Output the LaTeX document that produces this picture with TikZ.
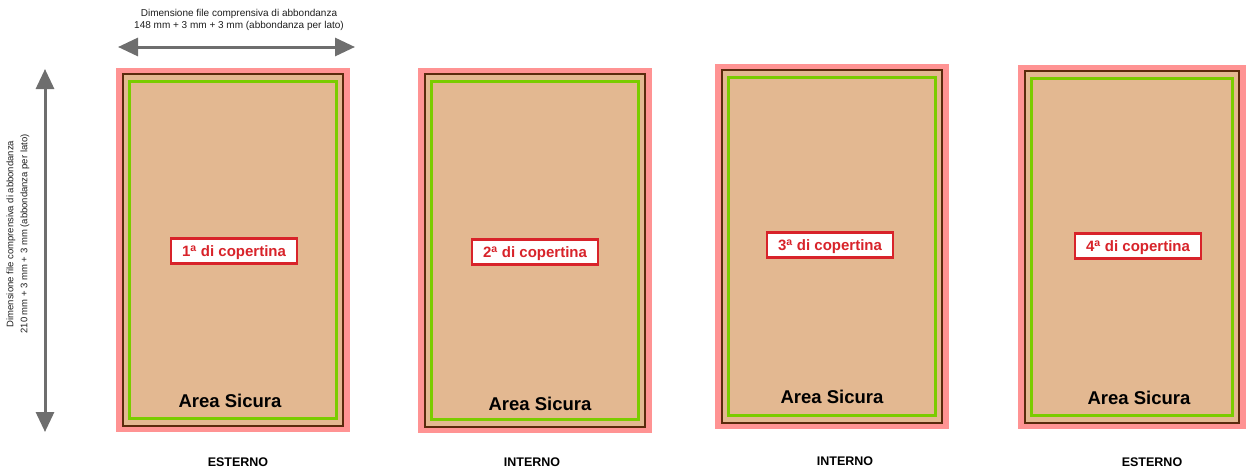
\documentclass[tikz,border=0pt]{standalone}
\usepackage{fontspec}
\setmainfont{Liberation Sans}
\usetikzlibrary{arrows.meta, positioning, calc}
\definecolor{cvBleed}{HTML}{FF9393}
\definecolor{cvPaper}{HTML}{E3B891}
\definecolor{cvTrim}{HTML}{5A2A0C}
\definecolor{cvSafe}{HTML}{7ACC00}
\definecolor{cvRed}{HTML}{D8232A}
\definecolor{cvGrey}{HTML}{6E6E6E}
\definecolor{cvInk}{HTML}{1E1E1E}
\tikzset{
  bleed/.style={
    rectangle, fill=cvBleed, inner sep=0pt, outer sep=0pt
  },
  trimline/.style={
    rectangle, draw=cvTrim, fill=cvPaper, line width=2.2pt,
    inner sep=0pt, outer sep=0pt
  },
  safeline/.style={rectangle, draw=cvSafe, line width=3pt, inner sep=0pt},
  pagetag/.style={
    draw=cvRed, fill=white, line width=2.4pt, text=cvRed,
    font=\fontsize{15}{17}\selectfont\bfseries,
    inner xsep=11pt, inner ysep=0pt, text height=10.5pt, text depth=0pt,
    minimum height=25pt
  },
  safetxt/.style={font=\fontsize{18.5}{20}\selectfont\bfseries, text=black},
  sidetxt/.style={font=\fontsize{12.5}{14}\selectfont\bfseries, text=black},
  dimtxt/.style={font=\fontsize{10}{12}\selectfont, text=cvInk, align=center},
  dimarrow/.style={
    {Triangle[length=20pt,width=18pt]}-{Triangle[length=20pt,width=18pt]},
    line width=3pt, draw=cvGrey
  },
}

\begin{document}
\begin{tikzpicture}[x=1pt, y=-1pt]
  \useasboundingbox (0,0) rectangle (1247,471);

  % dimension arrows
  \coordinate (hL) at (118,47);
  \coordinate (hR) at (355,47);
  \coordinate (vT) at (45,69);
  \coordinate (vB) at (45,432);
  \draw[dimarrow] (hL) -- (hR);
  \draw[dimarrow] (vT) -- (vB);
  \node[dimtxt] (hdim) at (239,20)
    {Dimensione file comprensiva di abbondanza\\148 mm + 3 mm + 3 mm (abbondanza per lato)};
  \node[dimtxt, font=\fontsize{9.5}{14}\selectfont, rotate=90] (vdim) at (18,234)
    {Dimensione file comprensiva di abbondanza\\210 mm + 3 mm + 3 mm (abbondanza per lato)};

  % pages
  \node[bleed, minimum width=234pt, minimum height=364pt] (pg1) at (233,250) {};
  \node[trimline, minimum width=220pt, minimum height=352pt] (tr1) at (pg1) {};
  \node[safeline, minimum width=207pt, minimum height=337pt] (sf1) at (pg1) {};

  \node[bleed, minimum width=234pt, minimum height=365pt] (pg2) at (535,250.5) {};
  \node[trimline, minimum width=220pt, minimum height=353pt] (tr2) at (pg2) {};
  \node[safeline, minimum width=207pt, minimum height=338pt] (sf2) at (pg2) {};

  \node[bleed, minimum width=234pt, minimum height=365pt] (pg3) at (832,246.5) {};
  \node[trimline, minimum width=220pt, minimum height=353pt] (tr3) at (pg3) {};
  \node[safeline, minimum width=207pt, minimum height=338pt] (sf3) at (pg3) {};

  \node[bleed, minimum width=228pt, minimum height=364pt] (pg4) at (1132,247) {};
  \node[trimline, minimum width=214pt, minimum height=352pt] (tr4) at (pg4) {};
  \node[safeline, minimum width=201pt, minimum height=337pt] (sf4) at (pg4) {};

  % labels
  \node[pagetag] (tag1) at (234,251) {1\textsuperscript{a} di copertina};
  \node[pagetag] (tag2) at (535,252) {2\textsuperscript{a} di copertina};
  \node[pagetag] (tag3) at (830,245) {3\textsuperscript{a} di copertina};
  \node[pagetag] (tag4) at (1138,246) {4\textsuperscript{a} di copertina};

  \node[safetxt] (safe1) at (230,401) {Area Sicura};
  \node[safetxt] (safe2) at (540,404) {Area Sicura};
  \node[safetxt] (safe3) at (832,397) {Area Sicura};
  \node[safetxt] (safe4) at (1139,398) {Area Sicura};

  \node[sidetxt] (side1) at (238,462) {ESTERNO};
  \node[sidetxt] (side2) at (532,462) {INTERNO};
  \node[sidetxt] (side3) at (845,461) {INTERNO};
  \node[sidetxt] (side4) at (1152,462) {ESTERNO};
\end{tikzpicture}
\end{document}
